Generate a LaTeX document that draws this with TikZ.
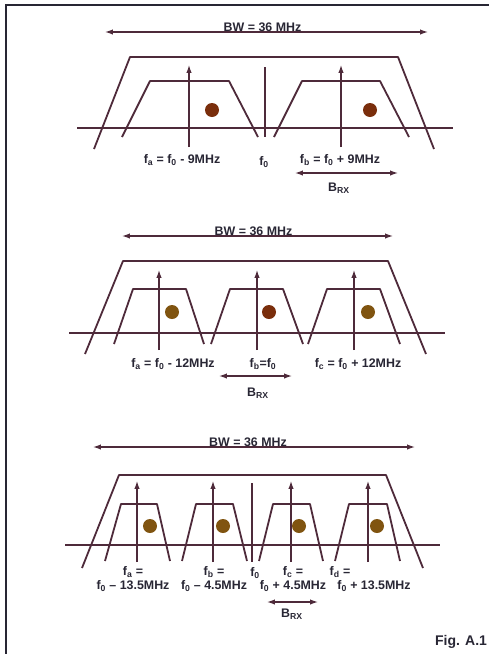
\documentclass[tikz,border=0pt]{standalone}
\usepackage{fontspec}
\setmainfont{Liberation Sans}
\usetikzlibrary{arrows.meta,positioning,calc}
\definecolor{TraceLine}{RGB}{78,42,58}
\definecolor{LabelInk}{RGB}{40,38,52}
\definecolor{CarrierRed}{RGB}{122,46,12}
\definecolor{CarrierOlive}{RGB}{128,84,16}

\begin{document}
\begin{tikzpicture}[
  x=1pt, y=-1pt,
  frame/.style={draw=LabelInk, line width=1.6pt},
  trace/.style={draw=TraceLine, line width=1.8pt, line join=round},
  axis/.style={draw=TraceLine, line width=1.2pt},
  carrier/.style={-{Latex[length=2.8mm,width=1.9mm]}, draw=TraceLine, line width=1.1pt},
  span/.style={{Latex[length=2.8mm,width=1.9mm]}-{Latex[length=2.8mm,width=1.9mm]}, draw=TraceLine, line width=1.2pt},
  lbl/.style={font=\bfseries\fontsize{12.4}{14}\selectfont, text=LabelInk, inner sep=1pt, align=center},
  dot/.style={circle, minimum size=14pt, inner sep=0pt}
]
\useasboundingbox (0,0) rectangle (494,654);
\draw[frame] (6,654) -- (6,5) -- (489,5);

% --- two channels, f0 +/- 9MHz
\coordinate (bwA-l) at (105,32);
\coordinate (bwA-r) at (428,32);
\draw[span] (bwA-l) -- node[lbl, above=-1pt, xshift=-4pt] (bwA) {BW = 36 MHz} (bwA-r);
\draw[axis] (77,128) -- (453,128);
\draw[trace] (94,149) -- (130,57) -- (398,57) -- (434,149);
\draw[trace] (122,137) -- (150,81) -- (229,81) -- (258,137);
\draw[trace] (274,137) -- (302,81) -- (380,81) -- (409,137);
\draw[axis] (265,67) -- (265,137);
\coordinate (caA-a) at (189,147); \coordinate (caA-at) at (189,65);
\coordinate (caA-b) at (341,147); \coordinate (caA-bt) at (341,65);
\draw[carrier] (caA-a) -- (caA-at);
\draw[carrier] (caA-b) -- (caA-bt);
\node[dot, fill=CarrierRed] (dotA-a) at (212,110) {};
\node[dot, fill=CarrierRed] (dotA-b) at (370,110) {};
\node[lbl] (fA-a) at (182,160) {f\textsubscript{a} = f\textsubscript{0} - 9MHz};
\node[lbl] (fA-0) at (264,162) {f\textsubscript{0}};
\node[lbl] (fA-b) at (340,160) {f\textsubscript{b} = f\textsubscript{0} + 9MHz};
\coordinate (rxA-l) at (295,173);
\coordinate (rxA-r) at (398,173);
\draw[span] (rxA-l) -- (rxA-r);
\node[lbl] (rxA) at (339,188) {B\textsubscript{RX}};

% --- three channels, f0 +/- 12MHz
\coordinate (bwB-l) at (122,236);
\coordinate (bwB-r) at (393,236);
\draw[span] (bwB-l) -- node[lbl, above=-1pt, xshift=-4pt] (bwB) {BW = 36 MHz} (bwB-r);
\draw[axis] (69,333) -- (445,333);
\draw[trace] (85,354) -- (123,261) -- (388,261) -- (426,354);
\draw[trace] (114,344) -- (133,289) -- (186,289) -- (204,344);
\draw[trace] (211,344) -- (230,289) -- (283,289) -- (303,344);
\draw[trace] (308,344) -- (327,289) -- (380,289) -- (400,344);
\coordinate (caB-a) at (159,350); \coordinate (caB-at) at (159,270);
\coordinate (caB-b) at (257,350); \coordinate (caB-bt) at (257,270);
\coordinate (caB-c) at (354,350); \coordinate (caB-ct) at (354,270);
\draw[carrier] (caB-a) -- (caB-at);
\draw[carrier] (caB-b) -- (caB-bt);
\draw[carrier] (caB-c) -- (caB-ct);
\node[dot, fill=CarrierOlive] (dotB-a) at (172,312) {};
\node[dot, fill=CarrierRed] (dotB-b) at (269,312) {};
\node[dot, fill=CarrierOlive] (dotB-c) at (368,312) {};
\node[lbl] (fB-a) at (173,364) {f\textsubscript{a} = f\textsubscript{0} - 12MHz};
\node[lbl] (fB-b) at (263,364) {f\textsubscript{b}=f\textsubscript{0}};
\node[lbl] (fB-c) at (358,364) {f\textsubscript{c} = f\textsubscript{0} + 12MHz};
\coordinate (rxB-l) at (219,376);
\coordinate (rxB-r) at (292,376);
\draw[span] (rxB-l) -- (rxB-r);
\node[lbl] (rxB) at (258,393) {B\textsubscript{RX}};

% --- four channels, f0 +/- 4.5 / 13.5MHz
\coordinate (bwC-l) at (93,447);
\coordinate (bwC-r) at (415,447);
\draw[span] (bwC-l) -- node[lbl, above=-1pt, xshift=-6pt] (bwC) {BW = 36 MHz} (bwC-r);
\draw[axis] (65,545) -- (440,545);
\draw[trace] (82,568) -- (119,475) -- (386,475) -- (423,568);
\draw[trace] (105,561) -- (121,504) -- (157,504) -- (170,561);
\draw[trace] (182,561) -- (196,504) -- (233,504) -- (247,561);
\draw[trace] (259,561) -- (273,504) -- (310,504) -- (323,561);
\draw[trace] (335,561) -- (349,504) -- (387,504) -- (400,561);
\draw[axis] (252,483) -- (252,562);
\coordinate (caC-a) at (137,562); \coordinate (caC-at) at (137,481);
\coordinate (caC-b) at (213,562); \coordinate (caC-bt) at (213,481);
\coordinate (caC-c) at (291,562); \coordinate (caC-ct) at (291,481);
\coordinate (caC-d) at (368,562); \coordinate (caC-dt) at (368,481);
\draw[carrier] (caC-a) -- (caC-at);
\draw[carrier] (caC-b) -- (caC-bt);
\draw[carrier] (caC-c) -- (caC-ct);
\draw[carrier] (caC-d) -- (caC-dt);
\node[dot, fill=CarrierOlive] (dotC-a) at (150,526) {};
\node[dot, fill=CarrierOlive] (dotC-b) at (223,526) {};
\node[dot, fill=CarrierOlive] (dotC-c) at (299,526) {};
\node[dot, fill=CarrierOlive] (dotC-d) at (377,526) {};
\node[lbl] (fC-a) at (133,579) {f\textsubscript{a} =\\f\textsubscript{0} -- 13.5MHz};
\node[lbl] (fC-b) at (214,579) {f\textsubscript{b} =\\f\textsubscript{0} -- 4.5MHz};
\node[lbl] (fC-0) at (255,573) {f\textsubscript{0}};
\node[lbl] (fC-c) at (293,579) {f\textsubscript{c} =\\f\textsubscript{0} + 4.5MHz};
\node[lbl] (fC-d1) at (340,572) {f\textsubscript{d} =};
\node[lbl] (fC-d2) at (374,586) {f\textsubscript{0} + 13.5MHz};
\coordinate (rxC-l) at (267,602);
\coordinate (rxC-r) at (318,602);
\draw[span] (rxC-l) -- (rxC-r);
\node[lbl] (rxC) at (292,614) {B\textsubscript{RX}};

\node[font=\bfseries\fontsize{14}{16}\selectfont, text=LabelInk] (fig) at (461,642) {Fig. A.1};
\end{tikzpicture}
\end{document}
